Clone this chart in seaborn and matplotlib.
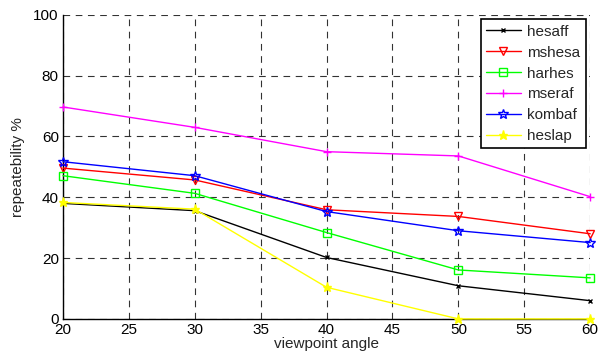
import numpy as np
import pandas as pd
import matplotlib
matplotlib.use("Agg")
import matplotlib.pyplot as plt
import seaborn as sns

angles = [20, 30, 40, 50, 60]
hesaff = [38.0, 35.6, 20.2, 10.9, 6.0]
mshesa = [49.6, 45.7, 35.9, 33.7, 28.0]
harhes = [47.1, 41.3, 28.4, 16.1, 13.5]
mseraf = [69.7, 63.0, 55.0, 53.6, 40.2]
kombaf = [51.7, 47.1, 35.3, 29.0, 25.1]
heslap = [38.3, 36.1, 10.4, 0.0, 0.0]

names = ["hesaff", "mshesa", "harhes", "mseraf", "kombaf", "heslap"]
series = [hesaff, mshesa, harhes, mseraf, kombaf, heslap]
colors = ["#000000", "#ff0000", "#00ff00", "#ff00ff", "#0000ff", "#ffff00"]
markers = ["x", "v", "s", "+", "*", "*"]
fills = ["#000000", "none", "none", "#ff00ff", "none", "#ffff00"]
msizes = [3.5, 6, 6, 6, 7, 6.5]

df = pd.DataFrame({
    "angle": np.tile(angles, len(names)),
    "value": np.concatenate(series),
    "method": np.repeat(names, len(angles)),
})

sns.set_theme(style="white")
plt.rcParams["font.family"] = ["Liberation Sans", "DejaVu Sans"]

fig = plt.figure(figsize=(6.11, 3.62), dpi=100)
ax = fig.add_axes([0.103, 0.119, 0.863, 0.840])

for name, c, m, fc, ms in zip(names, colors, markers, fills, msizes):
    sns.lineplot(data=df[df["method"] == name], x="angle", y="value", ax=ax,
                 color=c, marker=m, markersize=ms, markerfacecolor=fc,
                 markeredgecolor=c, markeredgewidth=1.0, linewidth=1.0,
                 label=name, clip_on=False, zorder=3)

ax.set_xlim(20, 60)
ax.set_ylim(0, 100)
ax.set_xticks(range(20, 61, 5))
ax.set_yticks(range(0, 101, 20))
ax.grid(True, color="black", linestyle=(0, (6, 5)), linewidth=0.8, alpha=0.8)
for s in ["top", "right"]:
    ax.spines[s].set_visible(False)
for s in ["left", "bottom"]:
    ax.spines[s].set_color("black")
    ax.spines[s].set_linewidth(1.0)
ax.tick_params(direction="in", length=4, colors="black", labelsize=11, pad=3)
ax.set_xlabel("viewpoint angle", fontsize=11, labelpad=0)
ax.set_ylabel("repeatebility %", fontsize=11, labelpad=6)

leg = ax.legend(loc="upper right", fontsize=11, frameon=True, fancybox=False,
                edgecolor="black", framealpha=1, borderaxespad=0.3,
                handlelength=2.3, handletextpad=0.4, labelspacing=0.45,
                borderpad=0.35)
leg.get_frame().set_linewidth(1.2)

fig.savefig("out.png", dpi=100)
